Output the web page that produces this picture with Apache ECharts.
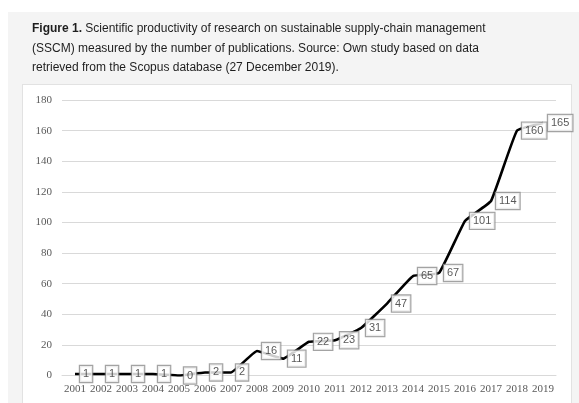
<!DOCTYPE html>
<html>
<head>
<meta charset="utf-8">
<script src="https://cdn.jsdelivr.net/npm/echarts@6/dist/echarts.min.js"></script>
<style>
  html, body { margin: 0; padding: 0; width: 579px; height: 403px; overflow: hidden; background: #ffffff; }
  #panel { position: absolute; left: 8px; top: 12px; width: 571px; height: 400px; background: #f4f4f4; }
  #box { position: absolute; left: 22px; top: 84px; width: 548px; height: 330px; background: #ffffff; border: 1px solid #e2e2e2; }
  #chart { position: absolute; left: 0; top: 0; width: 579px; height: 403px; }
</style>
</head>
<body>
<div id="panel"></div>
<div id="box"></div>
<div id="chart"></div>
<script>
const years = ['2001','2002','2003','2004','2005','2006','2007','2008','2009','2010','2011','2012','2013','2014','2015','2016','2017','2018','2019'];
const publications = [1, 1, 1, 1, 0, 2, 2, 16, 11, 22, 23, 31, 47, 65, 67, 101, 114, 160, 165];
const titleLines = [
  'Scientific productivity of research on sustainable supply-chain management',
  '(SSCM) measured by the number of publications. Source: Own study based on data',
  'retrieved from the Scopus database (27 December 2019).'
];

const chart = echarts.init(document.getElementById('chart'), null, { renderer: 'canvas' });
chart.setOption({
  backgroundColor: 'transparent',
  animation: false,
  title: {
    left: 32, top: 19, padding: 0,
    text: '{b|Figure 1.}{n| ' + titleLines[0] + '}\n{n|' + titleLines[1] + '}\n{n|' + titleLines[2] + '}',
    textStyle: {
      fontWeight: 'normal',
      rich: {
        b: { fontFamily: 'Liberation Sans', fontWeight: 'bold', fontSize: 12, color: '#1e1e1e', lineHeight: 19.5 },
        n: { fontFamily: 'Liberation Sans', fontWeight: 'normal', fontSize: 12, color: '#1e1e1e', lineHeight: 19.5 }
      }
    }
  },
  grid: { left: 62, right: 23, top: 100, bottom: 27.5, containLabel: false },
  xAxis: {
    type: 'category',
    data: years,
    boundaryGap: true,
    axisLine: { show: true, lineStyle: { color: '#d9d9d9', width: 1 } },
    axisTick: { show: false },
    axisLabel: { interval: 0, margin: 8, fontFamily: 'Liberation Serif', fontSize: 11, color: '#595959' }
  },
  yAxis: {
    type: 'value',
    min: 0, max: 180, interval: 20,
    axisLine: { show: false },
    axisTick: { show: false },
    splitLine: { lineStyle: { color: '#d9d9d9', width: 1 } },
    axisLabel: { margin: 10, fontFamily: 'Liberation Serif', fontSize: 11, color: '#595959' }
  },
  series: [{
    type: 'line',
    data: publications,
    symbol: 'none',
    smooth: 0.1,
    lineStyle: { color: '#000000', width: 2.6 },
    z: 2
  }, {
    type: 'scatter',
    data: publications,
    symbol: 'circle',
    symbolSize: 0,
    itemStyle: { color: 'rgba(0,0,0,0)' },
    z: 3,
    label: {
      show: true,
      position: 'right',
      distance: 5,
      formatter: '{c}',
      fontFamily: 'Liberation Sans',
      fontSize: 11,
      color: '#2e2e2e',
      backgroundColor: '#ffffff',
      borderColor: '#8c8c8c',
      borderWidth: 1.2,
      padding: [3, 3, 2, 3]
    }
  }]
});
</script>
</body>
</html>
